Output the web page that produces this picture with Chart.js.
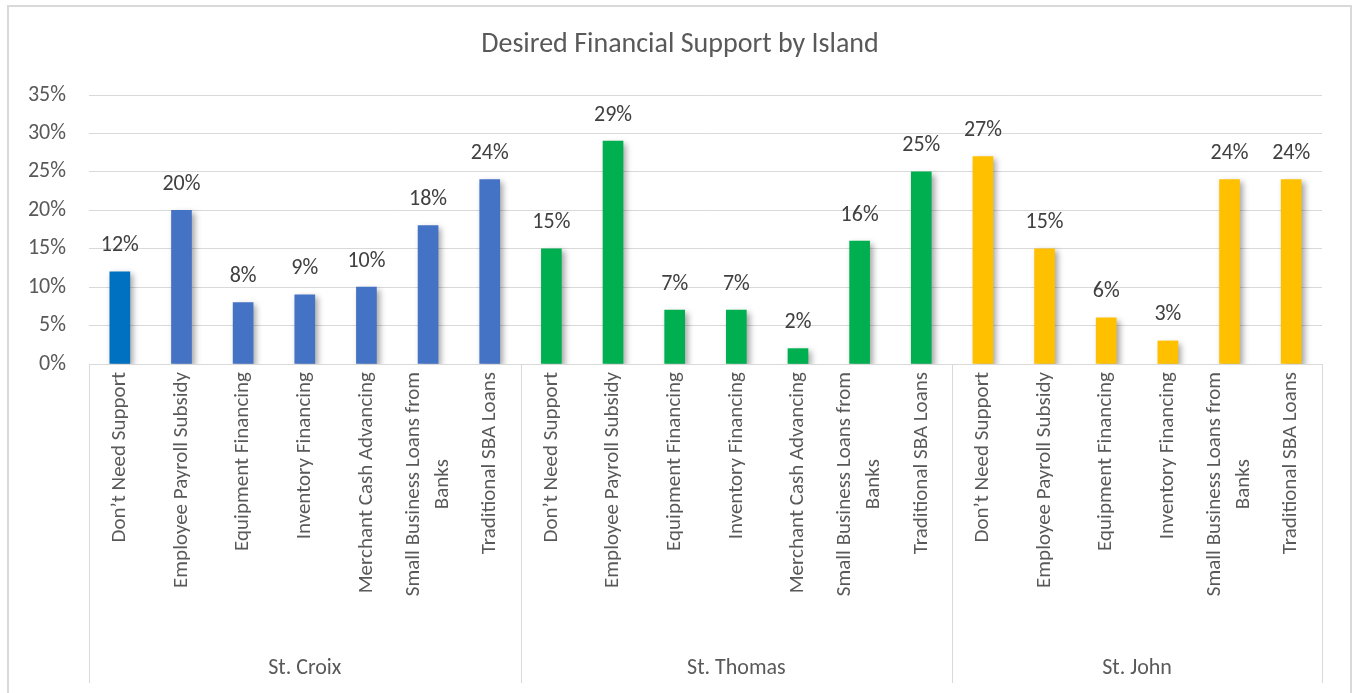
<!DOCTYPE html>
<html>
<head>
<meta charset="utf-8">
<title>Desired Financial Support by Island</title>
<script src="https://cdn.jsdelivr.net/npm/chart.js@4.4.1/dist/chart.umd.min.js"></script>
<style>
  html, body { margin: 0; padding: 0; background: #fff; }
  #wrap { position: relative; width: 1353px; height: 693px; }
</style>
</head>
<body>
<div id="wrap"><canvas id="supportChart"></canvas></div>
<script>
// Survey results, share of respondents per island (percent)
const islands = ['St. Croix', 'St. Thomas', 'St. John'];

const croixItems = ['Don’t Need Support', 'Employee Payroll Subsidy', 'Equipment Financing', 'Inventory Financing',
    'Merchant Cash Advancing', ['Small Business Loans from', 'Banks'], 'Traditional SBA Loans'];
const croixValues = [12, 20, 8, 9, 10, 18, 24];

const thomasItems = ['Don’t Need Support', 'Employee Payroll Subsidy', 'Equipment Financing', 'Inventory Financing',
    'Merchant Cash Advancing', ['Small Business Loans from', 'Banks'], 'Traditional SBA Loans'];
const thomasValues = [15, 29, 7, 7, 2, 16, 25];

const johnItems = ['Don’t Need Support', 'Employee Payroll Subsidy', 'Equipment Financing', 'Inventory Financing',
    ['Small Business Loans from', 'Banks'], 'Traditional SBA Loans'];
const johnValues = [27, 15, 6, 3, 24, 24];

const yTicks = [0, 5, 10, 15, 20, 25, 30, 35];

const islandColors = ['#4472C4', '#00B050', '#FFC000'];
const FONT = 'Carlito, Calibri, Lato, sans-serif';
const TEXT = '#595959';
const LINE = '#d9d9d9';

const groups = [croixItems, thomasItems, johnItems];
const labels = [].concat(croixItems, thomasItems, johnItems);
const values = [].concat(croixValues, thomasValues, johnValues);

const colors = [];
groups.forEach((items, g) => items.forEach(() => colors.push(islandColors[g])));
colors[0] = '#0070C0'; // first St. Croix bar is a darker blue

// soft drop shadow behind the bars
const barShadow = {
    id: 'barShadow',
    beforeDatasetsDraw(chart) {
        const ctx = chart.ctx;
        ctx.save();
        ctx.shadowColor = 'rgba(0,0,0,0.35)';
        ctx.shadowBlur = 6;
        ctx.shadowOffsetX = 3;
        ctx.shadowOffsetY = 3;
    },
    afterDatasetsDraw(chart) {
        chart.ctx.restore();
    }
};

// frame, title, value labels, rotated category labels and island groups
const decorations = {
    id: 'decorations',
    beforeDraw(chart) {
        const ctx = chart.ctx;
        ctx.save();
        ctx.fillStyle = '#fff';
        ctx.fillRect(0, 0, chart.width, chart.height);
        ctx.strokeStyle = LINE;
        ctx.lineWidth = 2;
        ctx.strokeRect(8, 6, chart.width - 10, chart.height + 10);
        ctx.restore();
    },
    afterDraw(chart) {
        const ctx = chart.ctx;
        const xs = chart.scales.x;
        const ys = chart.scales.y;
        const area = chart.chartArea;
        const axisY = ys.getPixelForValue(0);
        const meta = chart.getDatasetMeta(0);

        ctx.save();

        // title
        ctx.fillStyle = TEXT;
        ctx.font = '28px ' + FONT;
        ctx.textAlign = 'center';
        ctx.textBaseline = 'middle';
        ctx.fillText('Desired Financial Support by Island', 680, 45);

        // value labels
        ctx.fillStyle = '#404040';
        ctx.font = '22px ' + FONT;
        meta.data.forEach((bar, i) => {
            ctx.fillText(values[i] + '%', bar.x, bar.y - 26);
        });

        // category labels, read bottom to top
        ctx.fillStyle = TEXT;
        ctx.font = '21px ' + FONT;
        const lineH = 29;
        labels.forEach((lab, i) => {
            const lines = Array.isArray(lab) ? lab : [lab];
            const w = Math.max(...lines.map(l => ctx.measureText(l).width));
            ctx.save();
            ctx.translate(xs.getPixelForValue(i), axisY + 8);
            ctx.rotate(-Math.PI / 2);
            ctx.textAlign = 'center';
            lines.forEach((l, k) => {
                ctx.fillText(l, -w / 2, (k - (lines.length - 1) / 2) * lineH);
            });
            ctx.restore();
        });

        // island separators and names
        ctx.font = '22px ' + FONT;
        const step = (area.right - area.left) / labels.length;
        ctx.strokeStyle = LINE;
        ctx.lineWidth = 1;
        let start = 0;
        const edges = [area.left];
        groups.forEach((items, g) => {
            const x0 = area.left + start * step;
            const x1 = area.left + (start + items.length) * step;
            edges.push(x1);
            ctx.fillText(islands[g], (x0 + x1) / 2, 668);
            start += items.length;
        });
        edges.forEach(x => {
            const px = Math.round(x) + 0.5;
            ctx.beginPath();
            ctx.moveTo(px, axisY);
            ctx.lineTo(px, 683);
            ctx.stroke();
        });

        ctx.restore();
    }
};

new Chart(document.getElementById('supportChart'), {
    type: 'bar',
    data: {
        labels: labels,
        datasets: [{
            data: values,
            backgroundColor: colors,
            barThickness: 20,
            borderWidth: 0
        }]
    },
    options: {
        responsive: true,
        maintainAspectRatio: false,
        animation: false,
        layout: {
            padding: { top: 95, right: 31, bottom: 329, left: 0 }
        },
        plugins: {
            legend: { display: false },
            title: { display: false },
            tooltip: { enabled: false }
        },
        scales: {
            x: {
                afterFit(scale) { scale.height = 0; },
                grid: { display: false },
                border: { display: false },
                ticks: { display: false }
            },
            y: {
                min: 0,
                max: 35,
                afterFit(scale) { scale.width = 89; },
                afterBuildTicks(scale) { scale.ticks = yTicks.map(v => ({ value: v })); },
                grid: { color: LINE, lineWidth: 1, drawTicks: false },
                border: { display: false },
                ticks: {
                    padding: 23,
                    color: TEXT,
                    font: { family: FONT, size: 22 },
                    callback: v => v + '%'
                }
            }
        }
    },
    plugins: [barShadow, decorations]
});
</script>
</body>
</html>
